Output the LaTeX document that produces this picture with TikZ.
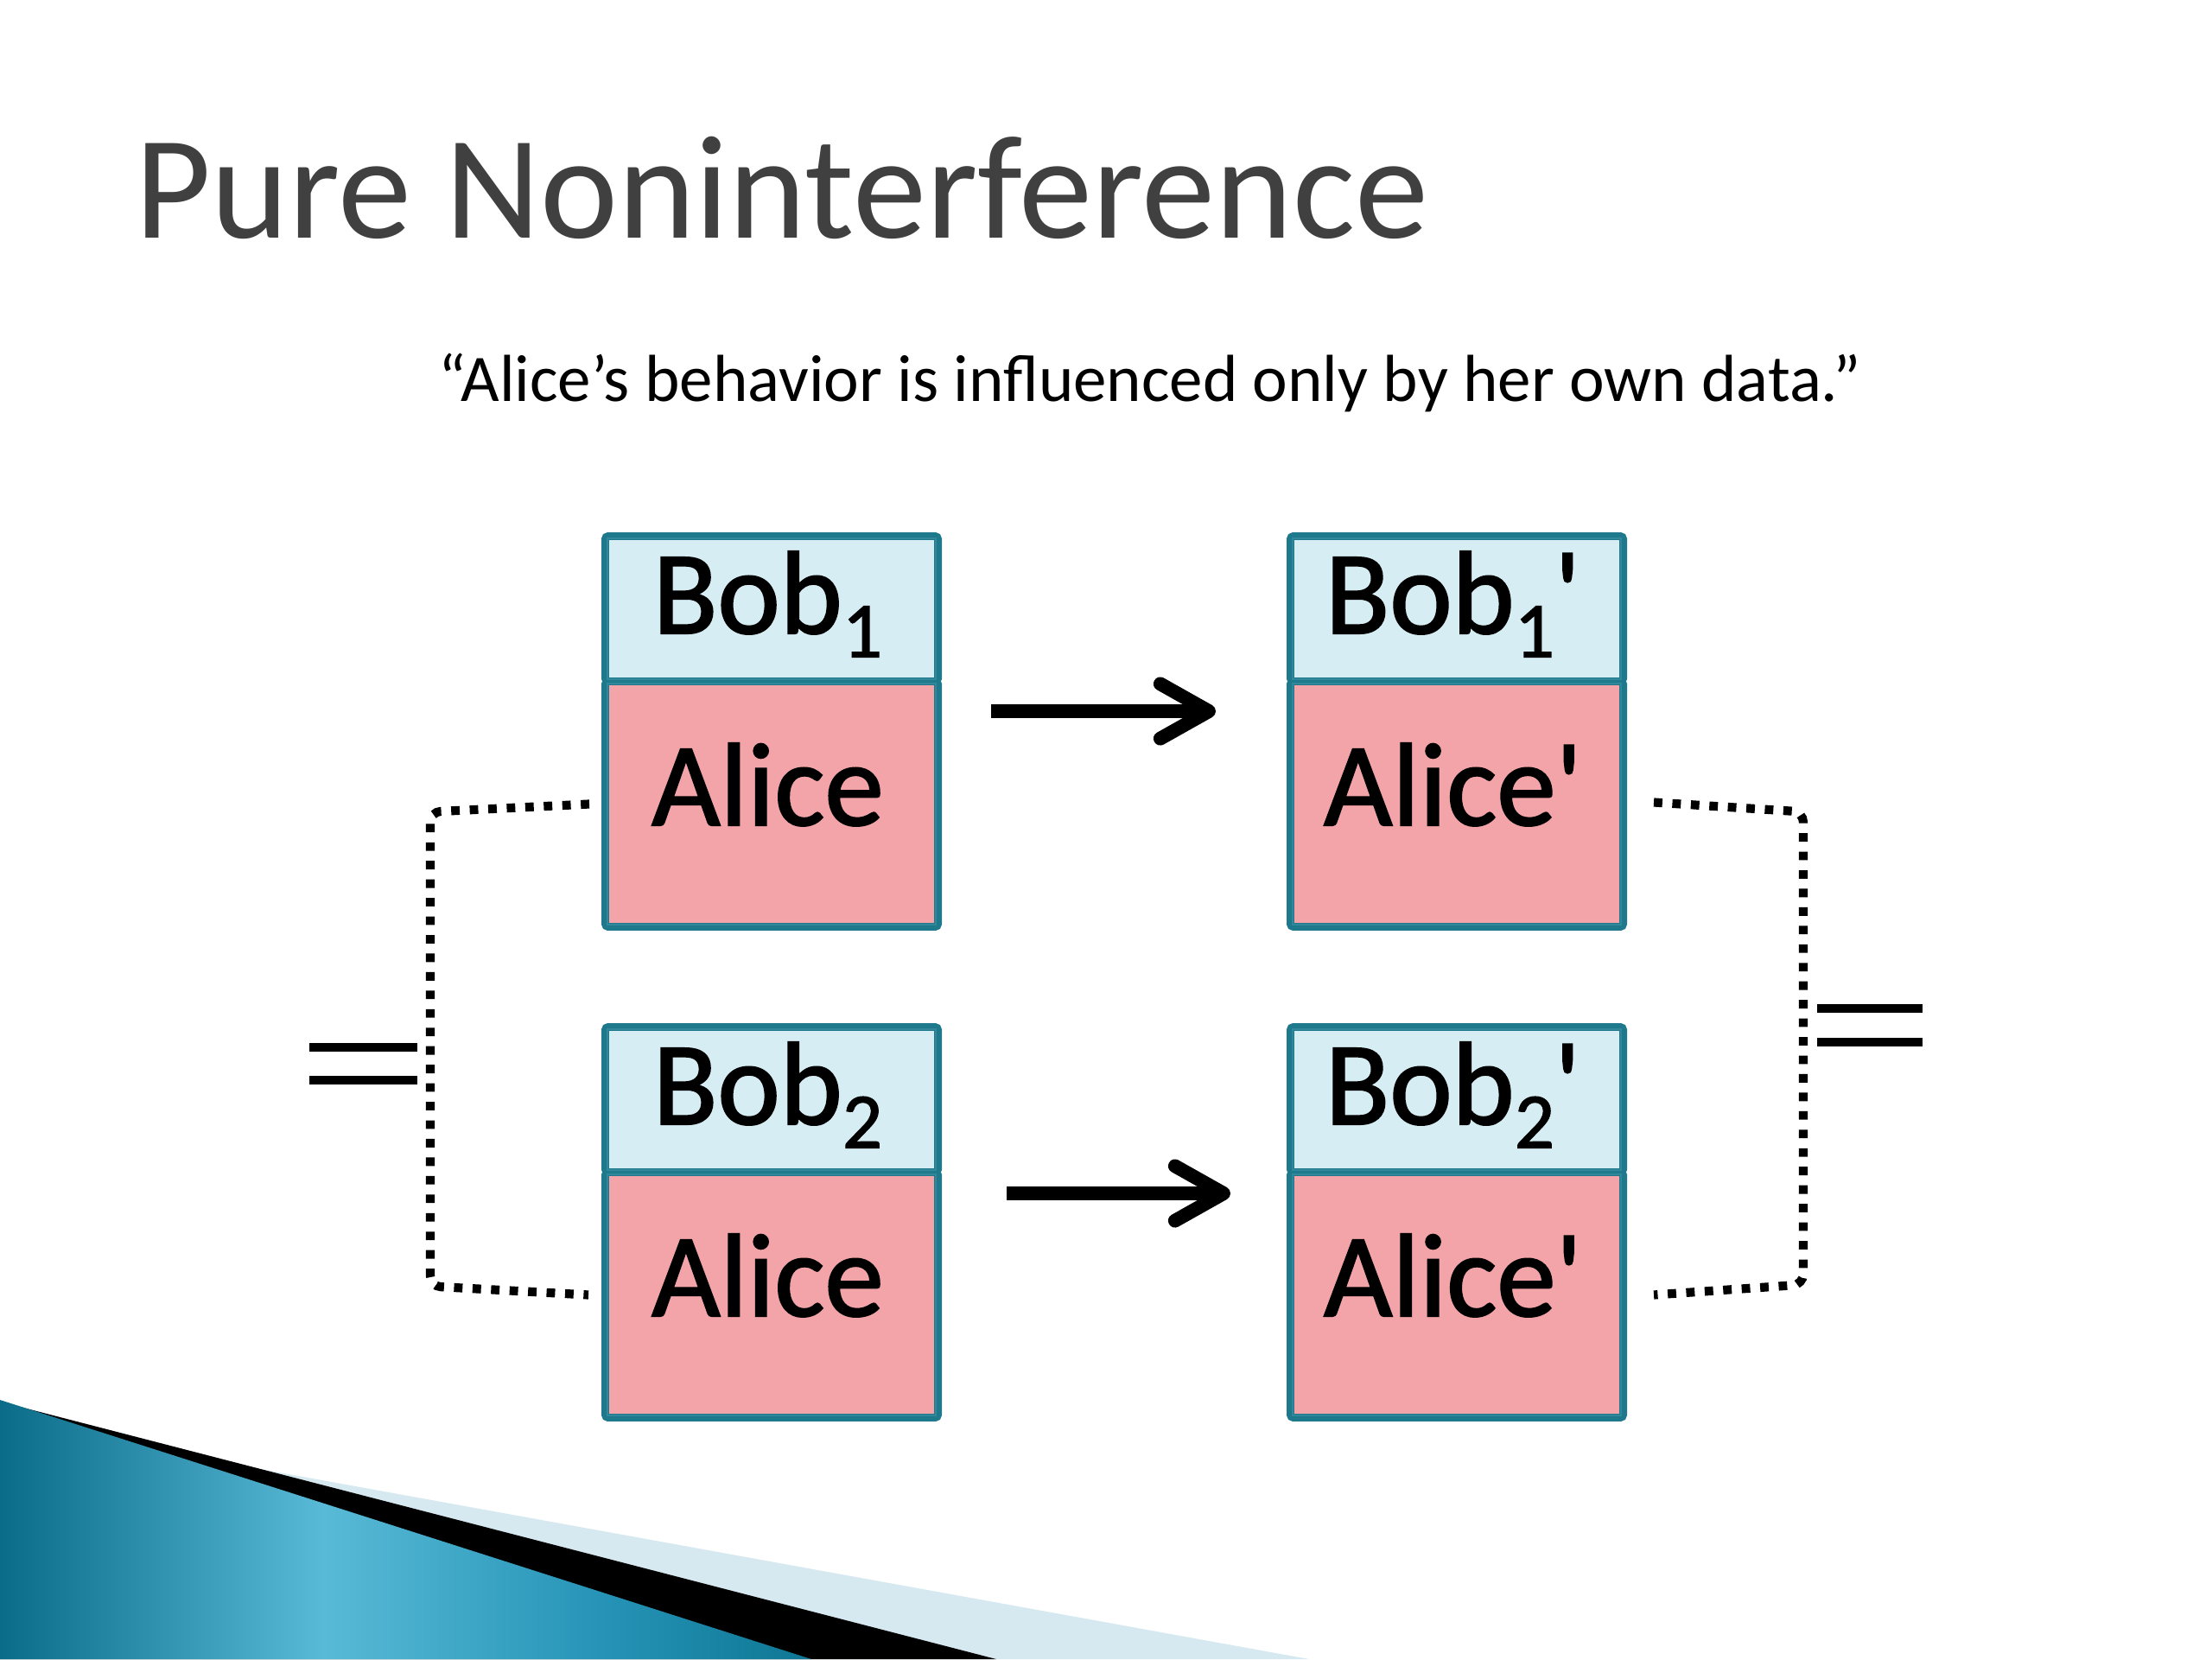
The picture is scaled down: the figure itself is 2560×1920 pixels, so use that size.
\documentclass[tikz,border=0pt]{standalone}
\usepackage{fontspec}
\newfontfamily\cfont{Carlito}
\newfontfamily\cboxfont{Carlito}[FakeBold=1.5]
\usetikzlibrary{arrows.meta}
\definecolor{tealb}{RGB}{31,121,141}
\definecolor{tealin}{RGB}{50,135,155}
\definecolor{bobfill}{RGB}{214,237,244}
\definecolor{alicefill}{RGB}{242,164,168}
\definecolor{titlegray}{RGB}{64,64,64}
\definecolor{decolight}{RGB}{214,233,240}
\definecolor{tealdk}{RGB}{10,108,136}
\definecolor{teallt}{RGB}{88,186,214}
\definecolor{tealmd}{RGB}{38,148,183}
\definecolor{tealdkb}{RGB}{14,118,148}
\pgfdeclarehorizontalshading{flowteal}{100bp}{color(0bp)=(tealdk); color(25bp)=(tealdk); color(45bp)=(teallt); color(62bp)=(tealmd); color(75bp)=(tealdkb); color(100bp)=(tealdkb)}
\newcommand{\lowsub}[1]{\raisebox{-0.2em}{\fontsize{26pt}{26pt}\selectfont #1}}
\tikzset{
  cellbase/.style={draw=tealb, line width=2.5pt, inner sep=0pt, minimum width=3.85cm, rounded corners=1pt},
  bobcell/.style={cellbase, fill=bobfill, minimum height=1.68cm},
  alicecell/.style={cellbase, fill=alicefill, minimum height=2.84cm},
  innerline/.style={draw=tealin, line width=0.6pt},
  celllabel/.style={font=\cboxfont\fontsize{39pt}{44pt}\selectfont, anchor=base, inner sep=0pt, text=black},
  flow/.style={line width=4.5pt, -{Straight Barb[length=16pt,width=18pt,round]}},
  dotline/.style={line width=2.9pt, dash pattern=on 2.8pt off 3.3pt, line cap=butt, rounded corners=0.12cm},
  eqline/.style={line width=2.8pt, line cap=butt}
}
\newcommand{\niBox}[5]{%
  \node[bobcell, anchor=north west] (b#1) at (#2+4,#3+4) {};
  \node[alicecell, anchor=north west] (a#1) at (#2+4,#3+172) {};
  \draw[innerline] ([shift={(7,7)}]b#1.north west) rectangle ([shift={(-7,-7)}]b#1.south east);
  \draw[innerline] ([shift={(7,7)}]a#1.north west) rectangle ([shift={(-7,-7)}]a#1.south east);
  \node[celllabel] (tb#1) at (#2+196.5,#3+121) {#4};
  \node[celllabel] (ta#1) at (#2+196.5,#3+343) {#5};
}
\begin{document}
\begin{tikzpicture}[x=0.01cm,y=-0.01cm]
\fill[white] (0,0) rectangle (2560,1920);
\useasboundingbox (0,0) rectangle (2560,1920);
% bottom-left decoration
\fill[decolight] (235,1688) -- (1515,1920) -- (235,1920) -- cycle;
\fill[black] (0,1622) -- (1153,1920) -- (0,1920) -- cycle;
\shade[shading=flowteal] (0,1620) -- (939,1920) -- (0,1920) -- cycle;
% title and subtitle
\node[font=\cfont\fontsize{48.5pt}{56pt}\selectfont, text=titlegray, anchor=base west, inner sep=0pt] (title) at (156,275) {Pure Noninterference};
\node[font=\cfont\fontsize{21.9pt}{26pt}\selectfont, anchor=base, inner sep=0pt] (quote) at (1331,464) {“Alice’s behavior is influenced only by her own data.”};
% boxes
\niBox{1}{692}{612}{Bob\lowsub{1}}{Alice}
\niBox{2}{1485}{612}{Bob\lowsub{1}'}{Alice'}
\niBox{3}{692}{1180}{Bob\lowsub{2}}{Alice}
\niBox{4}{1485}{1180}{Bob\lowsub{2}'}{Alice'}
% arrows
\draw[flow] ([shift={(57,39)}]a1.north east) -- ([shift={(-82,39)}]a2.north west);
\draw[flow] ([shift={(75,29)}]a3.north east) -- ([shift={(-65,29)}]a4.north west);
% dotted brackets
\coordinate (lx) at (498,0);
\coordinate (rx) at (2087,0);
\draw[dotline] ([shift={(-14,0)}]a1.west) -- ([shift={(0,9)}]a1.west -| lx) -- ([shift={(0,-10)}]a3.west -| lx) -- ([shift={(-15,0)}]a3.west);
\draw[dotline] ([shift={(31,-2)}]a2.east) -- ([shift={(0,9)}]a2.east -| rx) -- ([shift={(0,-12)}]a4.east -| rx) -- ([shift={(31,0)}]a4.east);
% equals signs
\draw[eqline] (358,1212) -- (483,1212);
\draw[eqline] (358,1250) -- (483,1250);
\draw[eqline] (2103,1167) -- (2225,1167);
\draw[eqline] (2103,1206) -- (2225,1206);
\end{tikzpicture}
\end{document}
